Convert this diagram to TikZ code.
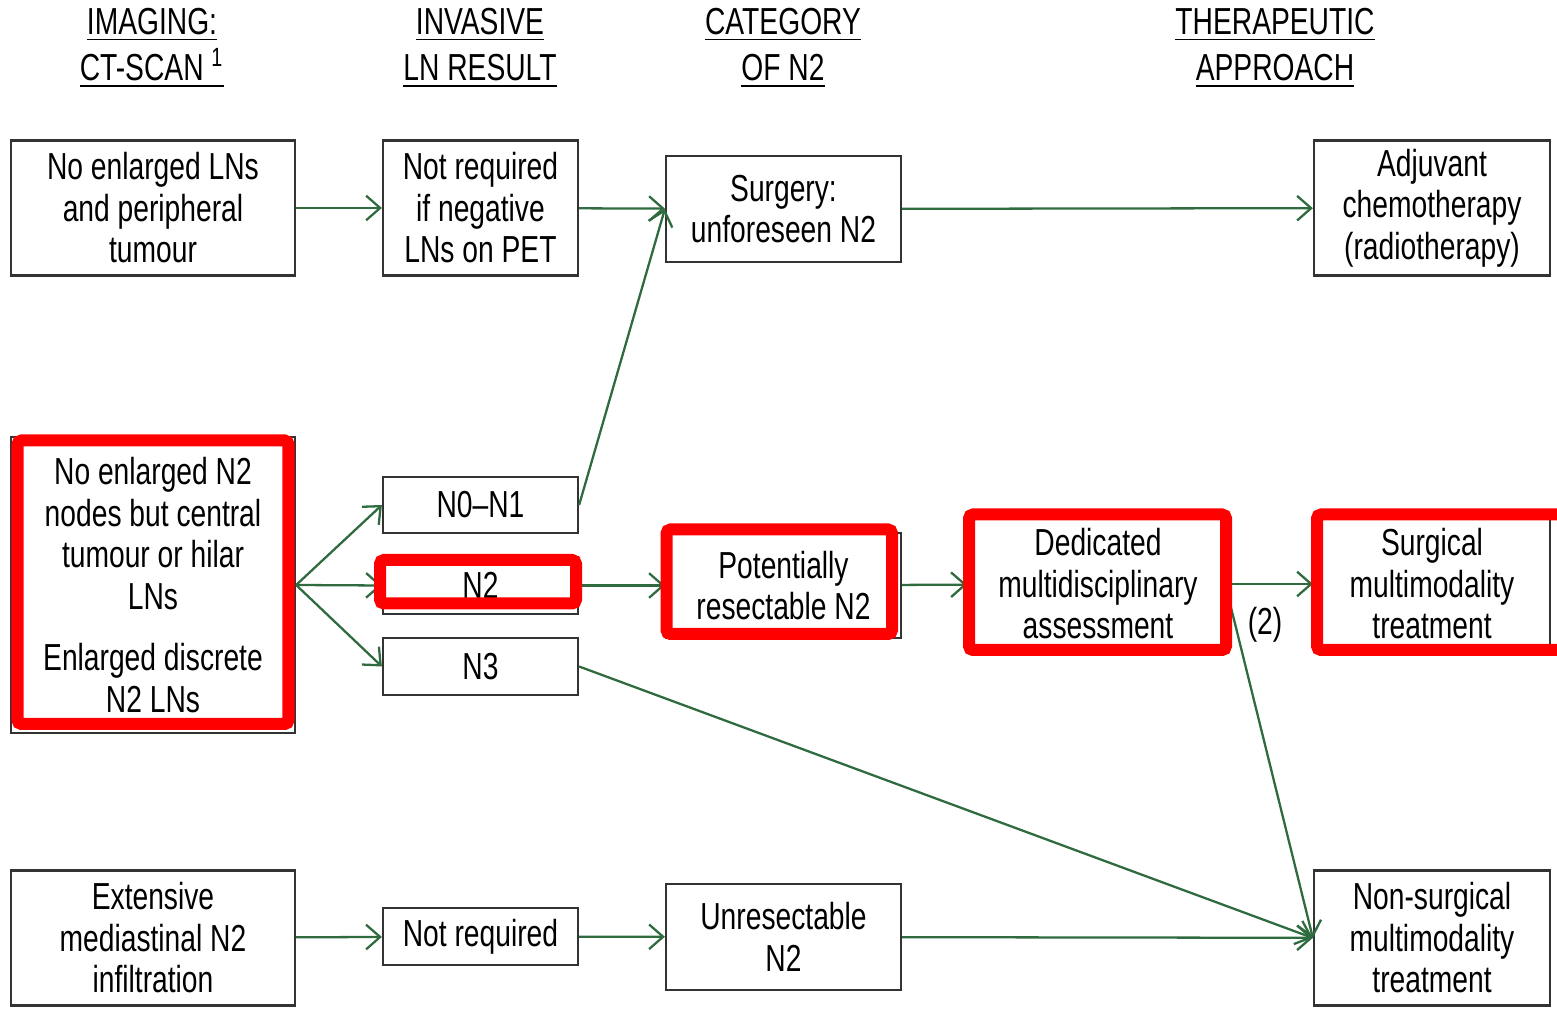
\documentclass[tikz,border=0pt]{standalone}
\usepackage{fontspec}
\setmainfont{Liberation Sans}[FakeStretch=0.75]
\usetikzlibrary{arrows.meta,calc}
\definecolor{FlowGreen}{HTML}{2F6B3F}
\definecolor{FrameRed}{HTML}{FF0000}

\begin{document}
\begin{tikzpicture}[x=0.01cm,y=-0.01cm,>={Straight Barb[length=4pt,width=7pt]},line cap=butt,line join=miter]

% Box sizes (one column each)
\def\imgW{2.84cm}
\def\invW{1.95cm}
\def\catW{2.35cm}
\def\thrW{2.36cm}
\def\tallH{1.35cm}

\tikzset{
  box/.style={draw=black!80,line width=0.6pt,align=center,inner sep=0pt,
    font=\fontsize{10.7}{11.8}\selectfont},
  head/.style={align=center,inner sep=0pt,font=\fontsize{10.7}{13.2}\selectfont},
  flow/.style={->,FlowGreen,line width=0.65pt},
  redframe/.style={draw=FrameRed,line width=0.12cm,rounded corners=0.04cm}
}

\useasboundingbox (0,0) rectangle (1557,1010);

% ---- HEADINGS ----
\node[head] (hImg) at (152,48) {\underline{IMAGING:}\\\underline{CT-SCAN \textsuperscript{1}}};
\node[head] (hInv) at (480,48) {\underline{INVASIVE}\\\underline{LN RESULT}};
\node[head] (hCat) at (783,48) {\underline{CATEGORY}\\\underline{OF N2}};
\node[head] (hThr) at (1275,48) {\underline{THERAPEUTIC}\\\underline{APPROACH}};

% ---- TOP ROW ----
\node[box,minimum width=\imgW,minimum height=\tallH] (img1) at (153,208)
  {No enlarged LNs\\and peripheral\\tumour};
\node[box,minimum width=\invW,minimum height=\tallH] (inv1) at (480.5,208)
  {Not required\\if negative\\LNs on PET};
\node[box,minimum width=\catW,minimum height=1.06cm] (cat1) at (783.5,209)
  {Surgery:\\unforeseen N2};
\node[box,minimum width=\thrW,minimum height=\tallH] (thr1) at (1432,208)
  {Adjuvant\\chemotherapy\\(radiotherapy)};

% ---- MIDDLE ROW ----
\node[box,minimum width=\imgW,minimum height=2.96cm] (img2) at (153,585)
  {No enlarged N2\\nodes but central\\tumour or hilar\\LNs\\[0.2cm]Enlarged discrete\\N2 LNs};
\node[box,minimum width=\invW,minimum height=0.56cm] (n01) at (480.5,505) {N0--N1};
\node[box,minimum width=\invW,minimum height=0.57cm] (n2) at (480.5,585.5) {N2};
\node[box,minimum width=\invW,minimum height=0.57cm] (n3) at (480.5,666.5) {N3};
\node[box,minimum width=\catW,minimum height=1.05cm] (cat2) at (783.5,585.5)
  {Potentially\\resectable N2};
\node[box,minimum width=2.6cm,minimum height=1.36cm] (mdt) at (1098,584)
  {Dedicated\\multidisciplinary\\assessment};
\node[box,minimum width=\thrW,minimum height=\tallH] (thr2) at (1432,584)
  {Surgical\\multimodality\\treatment};

% ---- BOTTOM ROW ----
\node[box,minimum width=\imgW,minimum height=\tallH] (img3) at (153,938)
  {Extensive\\mediastinal N2\\infiltration};
\node[box,minimum width=\invW,minimum height=0.57cm] (inv3) at (480.5,936.5) {Not required};
\node[box,minimum width=\catW,minimum height=1.06cm] (cat3) at (783.5,937)
  {Unresectable\\N2};
\node[box,minimum width=\thrW,minimum height=\tallH] (thr3) at (1432,938)
  {Non-surgical\\multimodality\\treatment};

% ---- CONNECTORS ----
\draw[flow] (img1) -- (inv1);
\draw[flow] (inv1) -- (cat1);
\draw[flow] (cat1) -- (thr1);
\draw[flow] (n01.east) -- (cat1.west);

\draw[flow] (img2.east) -- (n01.west);
\draw[flow] (img2.east) -- (n2.west);
\draw[flow] (img2.east) -- (n3.west);
\draw[flow] (n2) -- (cat2);
\draw[flow] (cat2) -- (mdt);
\draw[flow] (mdt) -- (thr2);
\draw[flow] ([yshift=-0.16cm]mdt.east) -- (thr3.west);
\draw[flow] (n3.east) -- (thr3.west);
\node[font=\fontsize{10.7}{11.8}\selectfont] (opt2) at (1265,625) {(2)};

\draw[flow] (img3) -- (inv3);
\draw[flow] (inv3) -- (cat3);
\draw[flow] (cat3) -- (thr3);

% ---- RED HIGHLIGHTS ----
\draw[redframe] (17.5,440.5) rectangle (288.5,724);
\draw[redframe] (380,560) rectangle (576,603.5);
\draw[redframe] (666.5,529.5) rectangle (892,634);
\draw[redframe] (969,514.5) rectangle (1226,650);
\draw[redframe] (1317,514.5) rectangle (1600,650);

\end{tikzpicture}
\end{document}
